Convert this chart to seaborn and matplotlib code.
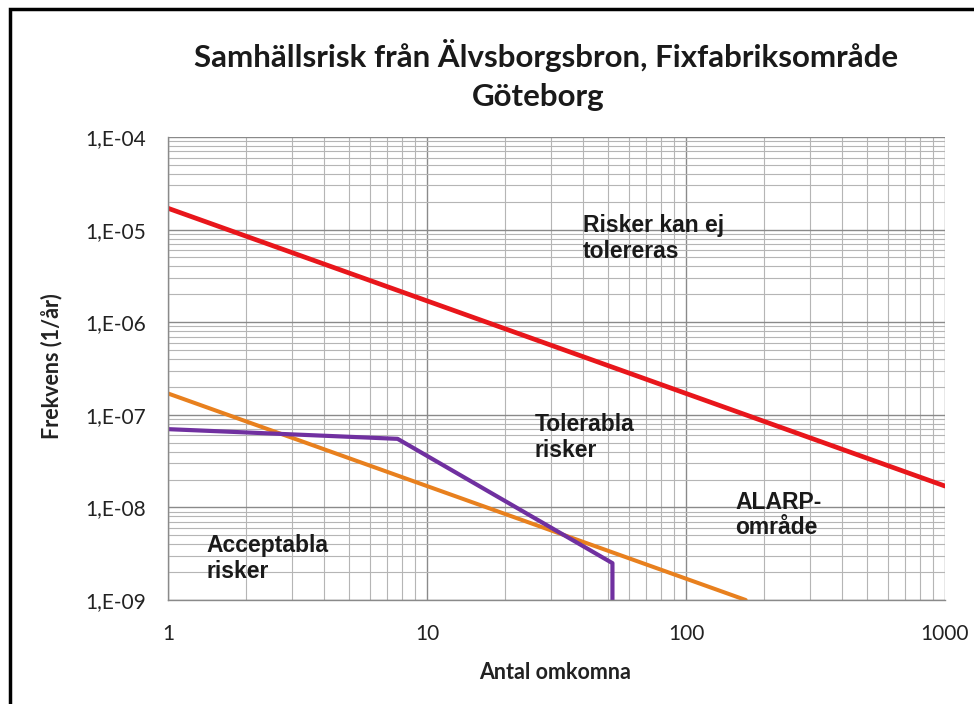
import numpy as np
import pandas as pd
import matplotlib.pyplot as plt
import seaborn as sns
from matplotlib.patches import Rectangle
from matplotlib.ticker import FixedLocator, FixedFormatter, LogLocator, NullFormatter

# F-N curves
red_n = [1, 1000]
red_f = [1.7e-5, 1.7e-8]
orange_n = [1, 170]
orange_f = [1.7e-7, 1.0e-9]
purple_n = [1, 7.7, 52, 52]
purple_f = [7.0e-8, 5.5e-8, 2.5e-9, 1.0e-9]

xticks = [1, 10, 100, 1000]
xtick_labels = ["1", "10", "100", "1000"]
yticks = [1e-9, 1e-8, 1e-7, 1e-6, 1e-5, 1e-4]
ytick_labels = ["1,E-09", "1,E-08", "1,E-07", "1,E-06", "1,E-05", "1,E-04"]

sns.set_style("white")
plt.rcParams['font.family'] = ['Lato', 'DejaVu Sans']

fig = plt.figure(figsize=(9.74, 7.04), dpi=100)
ax = fig.add_axes([168/974, 1-600/704, (945-168)/974, (600-137)/704])

sns.lineplot(x=red_n, y=red_f, color='#E8161B', lw=3.4, ax=ax, estimator=None, sort=False)
sns.lineplot(x=orange_n, y=orange_f, color='#E8801E', lw=2.9, ax=ax, estimator=None, sort=False)
sns.lineplot(x=purple_n, y=purple_f, color='#7030A0', lw=3.0, ax=ax, estimator=None, sort=False)

ax.set_xscale('log')
ax.set_yscale('log')
ax.set_xlim(1, 1000)
ax.set_ylim(1e-9, 1e-4)

ax.xaxis.set_major_locator(FixedLocator(xticks))
ax.xaxis.set_major_formatter(FixedFormatter(xtick_labels))
ax.yaxis.set_major_locator(FixedLocator(yticks))
ax.yaxis.set_major_formatter(FixedFormatter(ytick_labels))
ax.xaxis.set_minor_locator(LogLocator(base=10, subs=np.arange(2, 10)))
ax.yaxis.set_minor_locator(LogLocator(base=10, subs=np.arange(2, 10)))
ax.xaxis.set_minor_formatter(NullFormatter())
ax.yaxis.set_minor_formatter(NullFormatter())

ax.grid(which='major', color='#8a8a8a', lw=1.0)
ax.grid(which='minor', color='#b5b5b5', lw=0.8)
ax.set_axisbelow(True)
for s in ['top', 'right']:
    ax.spines[s].set_visible(False)
for s in ['left', 'bottom']:
    ax.spines[s].set_color('#8a8a8a')
    ax.spines[s].set_linewidth(1.0)
ax.tick_params(which='major', length=6, width=1, color='#8a8a8a', labelsize=15, colors='#8a8a8a',
               labelcolor='#222222')
ax.tick_params(axis='y', pad=10)
ax.tick_params(axis='x', pad=11)
ax.tick_params(which='minor', length=0)

ax.set_xlabel('Antal omkomna', fontsize=15.5, fontweight='bold', color='#222222')
ax.set_ylabel('Frekvens (1/år)', fontsize=15.5, fontweight='bold', color='#222222')
ax.xaxis.set_label_coords(0.498, -0.134)
ax.yaxis.set_label_coords(-0.136, 0.505)

tfont = dict(fontsize=16.5, fontweight='bold', family=['Liberation Sans', 'DejaVu Sans'],
             color='#1a1a1a', ha='left', va='center', linespacing=1.15)
ax.text(40, 8e-6, 'Risker kan ej\ntolereras', **tfont)
ax.text(26, 5.7e-8, 'Tolerabla\nrisker', **tfont)
ax.text(155, 8.3e-9, 'ALARP-\nområde', **tfont)
ax.text(1.41, 2.8e-9, 'Acceptabla\nrisker', **tfont)

fig.text(546/974, 1-55/704, 'Samhällsrisk från Älvsborgsbron, Fixfabriksområde',
         ha='center', va='center', fontsize=22.5, fontweight='bold', color='#1a1a1a')
fig.text(538/974, 1-97/704, 'Göteborg', ha='center', va='center', fontsize=22.5,
         fontweight='bold', color='#1a1a1a')

# outer frame
fig.patches.append(Rectangle((10/974, -0.1), 1.2, 1.1 - 9/704, transform=fig.transFigure,
                             fill=False, edgecolor='black', lw=2.5))

fig.savefig('out.png', dpi=100)
